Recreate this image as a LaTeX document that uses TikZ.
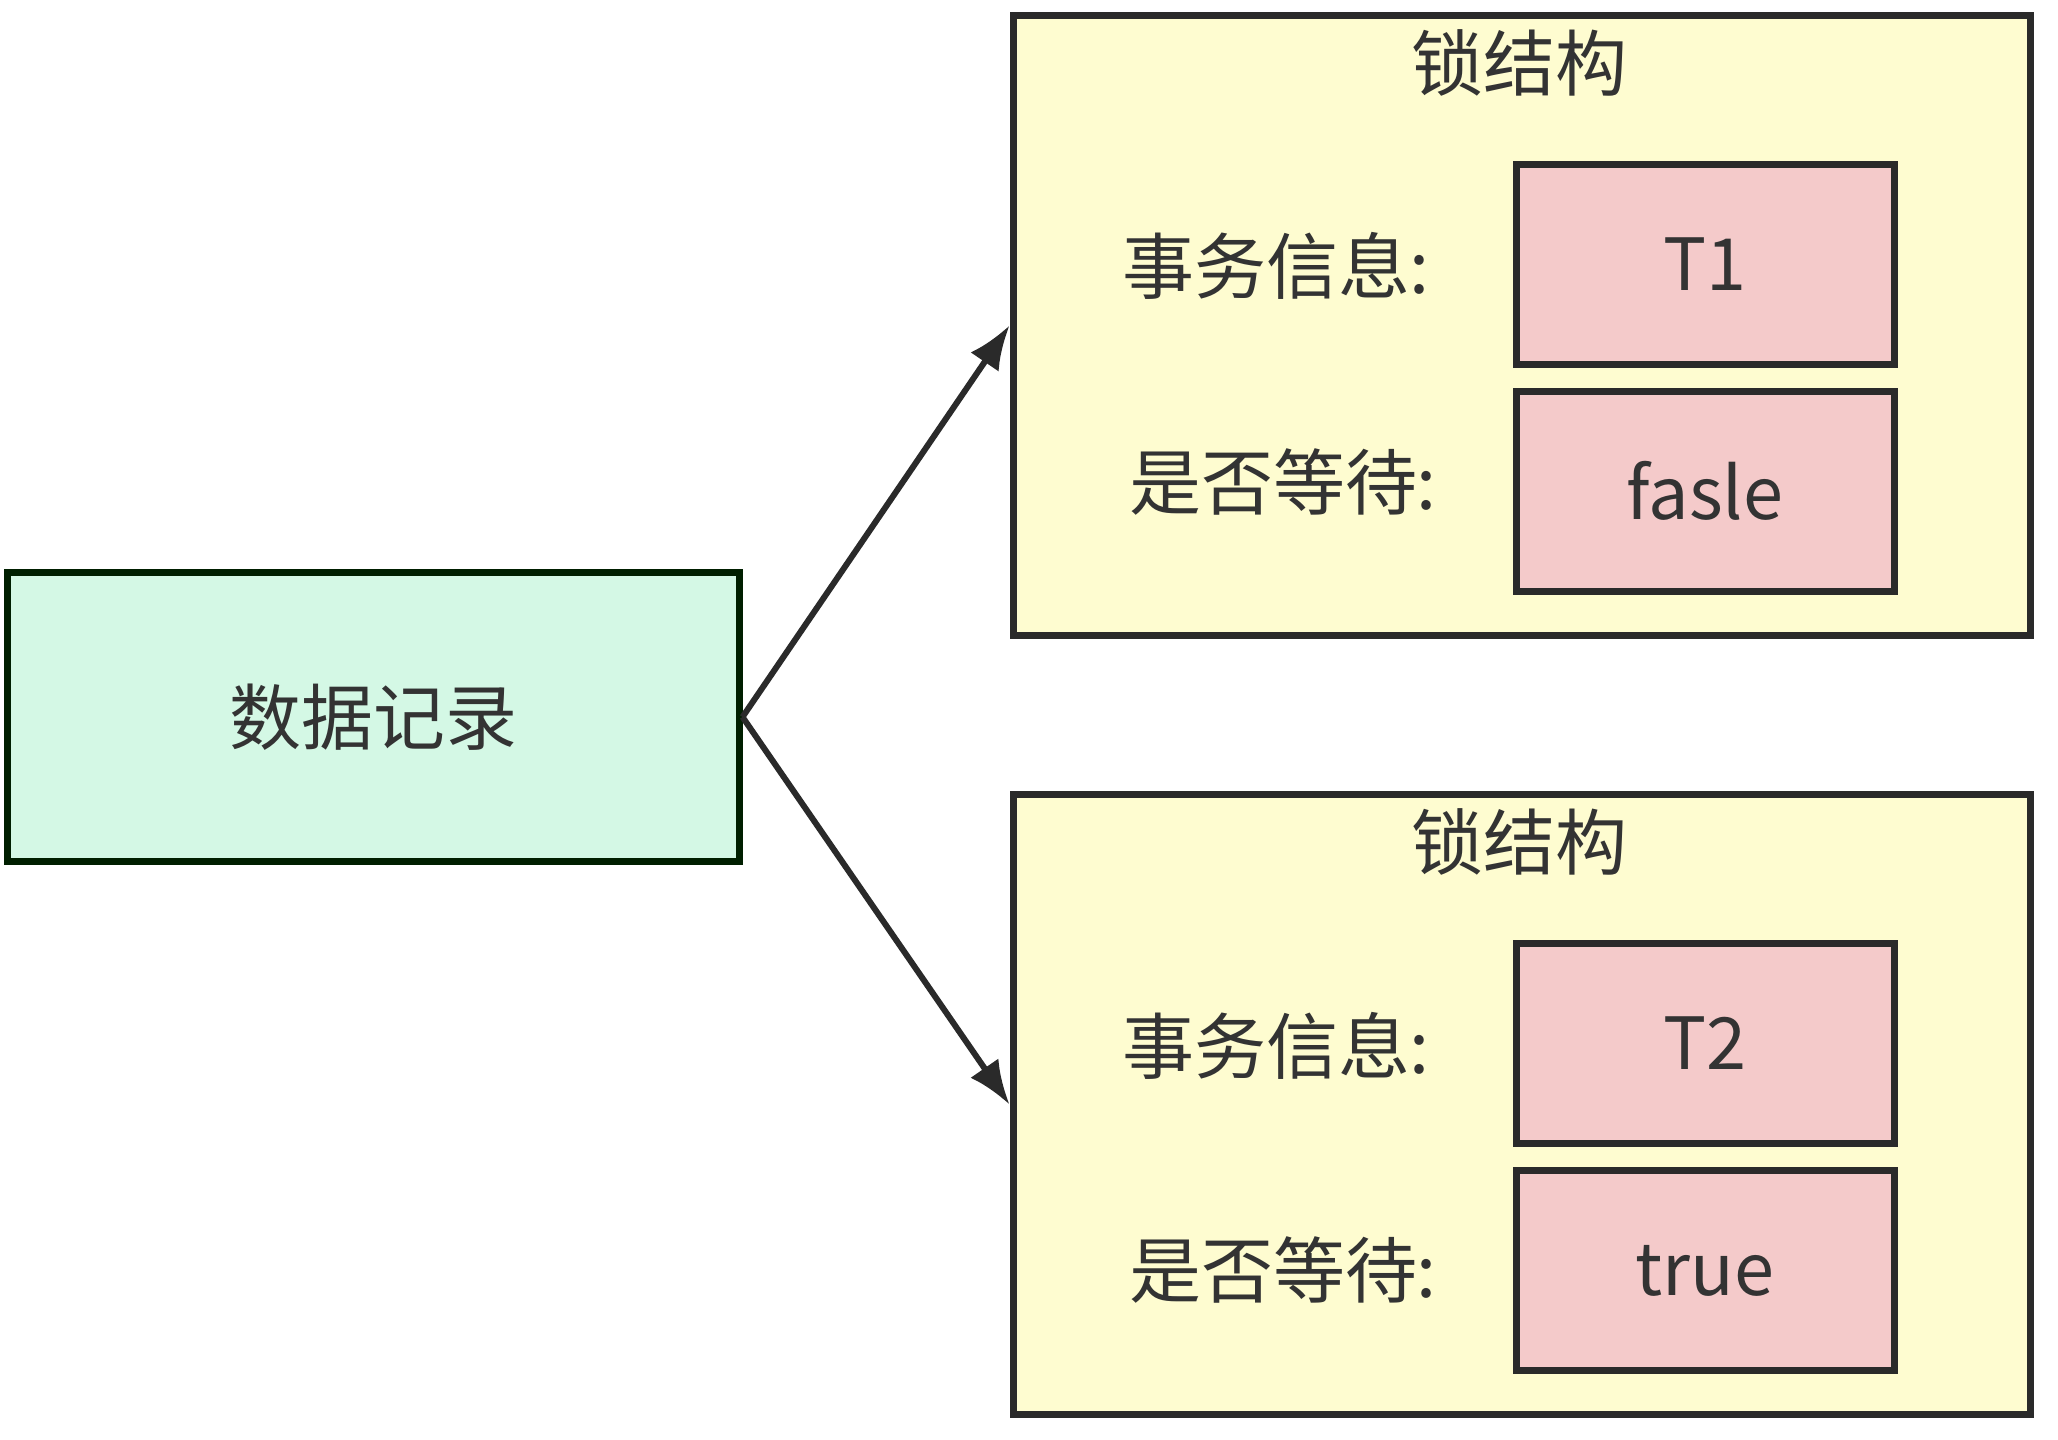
\documentclass[tikz,border=0pt]{standalone}
\usepackage{fontspec}
\setmainfont{Noto Sans CJK SC}
\usetikzlibrary{arrows.meta}
\definecolor{greenfill}{HTML}{D4F8E5}
\definecolor{yellowfill}{HTML}{FEFCD0}
\definecolor{pinkfill}{HTML}{F4CACA}
\definecolor{border}{HTML}{2A2A2A}
\definecolor{txt}{HTML}{333333}
\tikzset{
  box/.style={draw=border, line width=3.5pt, inner sep=0pt, text=txt, font=\fontsize{36}{40}\selectfont},
  recbox/.style={box, fill=greenfill, draw=black!80!green!60!black, minimum width=366pt, minimum height=144.5pt},
  lockbox/.style={box, fill=yellowfill, minimum width=508.5pt, minimum height=310pt},
  valbox/.style={box, fill=pinkfill, minimum width=189pt, minimum height=100pt},
  lbl/.style={text=txt, inner sep=0pt, font=\fontsize{36}{40}\selectfont},
  conn/.style={draw=border, line width=3pt, -{Latex[length=22pt,width=17pt]}}
}
\begin{document}
\begin{tikzpicture}[x=0.5pt,y=-0.5pt]
\useasboundingbox[fill=white] (0,0) rectangle (2058,1440);
\node[recbox] (rec) at (373,717) {数据记录};
\node[lockbox] (lockA) at (1521.5,325.5) {};
\node[lockbox] (lockB) at (1521.5,1104.5) {};
\node[lbl] (titleA) at (1519,63) {锁结构};
\node[lbl] (titleB) at (1519,842) {锁结构};
\node[valbox] (t1) at (1705,264) {T1};
\node[valbox] (w1) at (1705,491) {fasle};
\node[valbox] (t2) at (1705,1043.5) {T2};
\node[valbox] (w2) at (1705,1270.5) {true};
\node[lbl] (la1) at (1276,266) {事务信息:};
\node[lbl] (lb1) at (1283,482) {是否等待:};
\node[lbl] (la2) at (1276,1046) {事务信息:};
\node[lbl] (lb2) at (1283,1270) {是否等待:};
\draw[conn] (rec.east) -- (lockA.west);
\draw[conn] (rec.east) -- (lockB.west);
\end{tikzpicture}
\end{document}
